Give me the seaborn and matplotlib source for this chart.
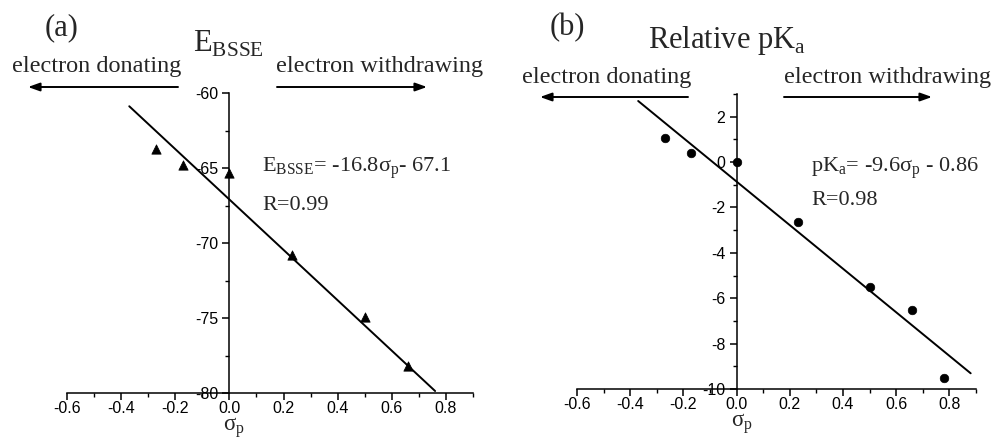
import matplotlib
matplotlib.use("Agg")
import matplotlib.pyplot as plt
from matplotlib.ticker import MultipleLocator, FormatStrFormatter
import numpy as np
import pandas as pd
import seaborn as sns

# Hammett sigma_p of the substituents
sigma_a = [-0.27, -0.17, 0.0, 0.23, 0.50, 0.66]
ebsse = [-63.7, -64.8, -65.3, -70.8, -74.9, -78.2]

sigma_b = [-0.27, -0.17, 0.0, 0.23, 0.50, 0.66, 0.78]
rel_pka = [1.05, 0.42, 0.0, -2.62, -5.5, -6.5, -9.5]

# reported linear fits (slope, intercept) and the span they were drawn over
fit_a = (-16.8, -67.1)
fit_b = (-9.6, -0.86)
fit_span_a = [-0.37, 0.76]
fit_span_b = [-0.37, 0.88]

SERIF = "Liberation Serif"

sns.set_style("ticks")
plt.rcParams["font.family"] = ["Liberation Sans", "DejaVu Sans"]
plt.rcParams["axes.unicode_minus"] = False


def fit_frame(span, coef):
    x = np.array(span)
    return pd.DataFrame({"x": x, "y": coef[0] * x + coef[1]})


def style_axis(ax, ylim, ymaj, ymin):
    """origin-like axes: y spine through sigma=0, no box"""
    ax.set_xlim(-0.6, 0.9)
    ax.set_ylim(*ylim)
    ax.spines["left"].set_position(("data", 0))
    ax.spines["top"].set_visible(False)
    ax.spines["right"].set_visible(False)
    for s in ("left", "bottom"):
        ax.spines[s].set_linewidth(1.1)
        ax.spines[s].set_color("black")
    ax.xaxis.set_major_locator(MultipleLocator(0.2))
    ax.xaxis.set_minor_locator(MultipleLocator(0.1))
    ax.xaxis.set_major_formatter(FormatStrFormatter("%.1f"))
    ax.yaxis.set_major_locator(MultipleLocator(ymaj))
    ax.yaxis.set_minor_locator(MultipleLocator(ymin))
    ax.tick_params(which="major", length=5, width=1.1, labelsize=11.5,
                   direction="out", color="black", labelcolor="black", pad=3)
    ax.tick_params(which="minor", length=3, width=1.0, direction="out",
                   color="black")
    ax.tick_params(axis="x", which="major", pad=1)
    ax.set_xlabel("")
    ax.set_ylabel("")


def px(x, y):
    return x / 991, 1 - y / 440


def arrow(fig, x0, x1, y):
    fig.add_artist(matplotlib.patches.FancyArrowPatch(
        px(x0, y), px(x1, y), transform=fig.transFigure,
        arrowstyle="-|>,head_length=7,head_width=2.5", lw=1.4,
        color="black", shrinkA=0, shrinkB=0))


fig = plt.figure(figsize=(9.91, 4.4), dpi=100)
ax1 = fig.add_axes([67 / 991, 1 - 393 / 440, 406 / 991, 300 / 440])
ax2 = fig.add_axes([577 / 991, 1 - 389 / 440, 399 / 991, 295 / 440])

# panel (a)
sns.lineplot(data=fit_frame(fit_span_a, fit_a), x="x", y="y", color="black",
             lw=1.4, ax=ax1)
sns.scatterplot(x=sigma_a, y=ebsse, marker="^", s=45, color="black",
                edgecolor="black", ax=ax1)
style_axis(ax1, (-80, -60), 5, 2.5)

# panel (b)
sns.lineplot(data=fit_frame(fit_span_b, fit_b), x="x", y="y", color="black",
             lw=1.4, ax=ax2)
sns.scatterplot(x=sigma_b, y=rel_pka, marker="o", s=38, color="black",
                edgecolor="black", ax=ax2)
style_axis(ax2, (-10, 3), 2, 1)

# headings
fig.text(*px(62, 28), "(a)", family=SERIF, fontsize=22, ha="center", va="center")
fig.text(*px(193, 52), r"E$_{\mathregular{BSSE}}$", family=SERIF, fontsize=22,
         ha="left", va="baseline")
fig.text(*px(567, 28), "(b)", family=SERIF, fontsize=22, ha="center", va="center")
fig.text(*px(648, 48), r"Relative pK$_{\mathregular{a}}$", family=SERIF,
         fontsize=22, ha="left", va="baseline")

# substituent direction labels
fig.text(*px(12, 72), "electron donating", family=SERIF, fontsize=17.5,
         ha="left", va="baseline")
fig.text(*px(276, 72), "electron withdrawing", family=SERIF, fontsize=17.5,
         ha="left", va="baseline")
arrow(fig, 178, 28, 87)
arrow(fig, 277, 427, 87)

fig.text(*px(522, 83), "electron donating", family=SERIF, fontsize=17.5,
         ha="left", va="baseline")
fig.text(*px(784, 83), "electron withdrawing", family=SERIF, fontsize=17.5,
         ha="left", va="baseline")
arrow(fig, 688, 540, 97)
arrow(fig, 784, 932, 97)

# fit equations
fig.text(*px(262, 172), r"E$_{\mathregular{BSSE}}$= -16.8σ$_{\mathregular{p}}$- 67.1",
         family=SERIF, fontsize=16, ha="left", va="baseline")
fig.text(*px(262, 210), "R=0.99", family=SERIF, fontsize=16, ha="left",
         va="baseline")
fig.text(*px(811, 172), r"pK$_{\mathregular{a}}$= -9.6σ$_{\mathregular{p}}$ - 0.86",
         family=SERIF, fontsize=16, ha="left", va="baseline")
fig.text(*px(811, 205), "R=0.98", family=SERIF, fontsize=16, ha="left",
         va="baseline")

# axis labels (kept just inside the bottom edge)
fig.text(*px(234, 416), r"σ$_{\mathregular{p}}$", family=SERIF, fontsize=16.5,
         ha="center", va="top")
fig.text(*px(742, 412), r"σ$_{\mathregular{p}}$", family=SERIF, fontsize=16.5,
         ha="center", va="top")

fig.savefig("out.png", dpi=100)
